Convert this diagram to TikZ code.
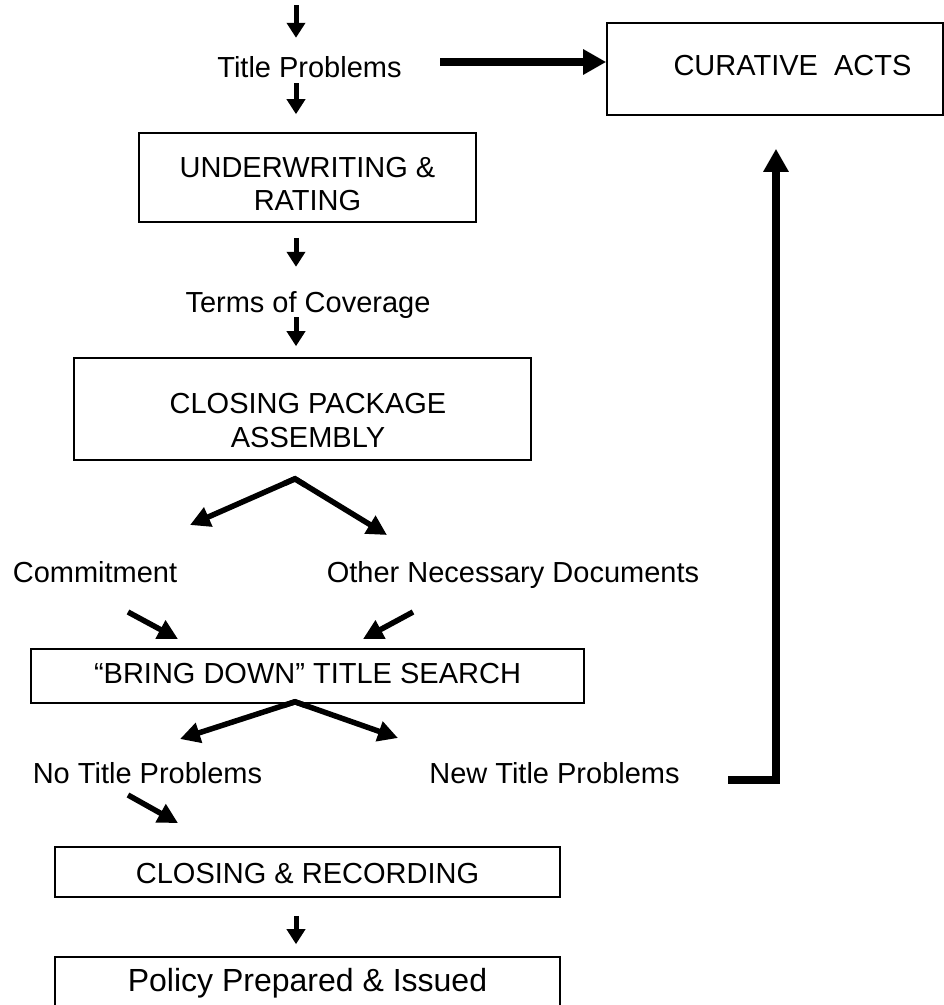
\documentclass[tikz,border=0pt]{standalone}
\usepackage{fontspec}
\setmainfont{Liberation Sans}
\usetikzlibrary{arrows.meta,calc}
\newcommand{\twoline}[3]{\raisebox{-#1}[\height][\depth]{\begin{tabular}{@{}c@{}}#2\\#3\end{tabular}}}
\begin{document}
\begin{tikzpicture}[x=1pt,y=-1pt,
  every node/.style={font=\fontsize{29pt}{33.5pt}\selectfont, inner sep=0pt},
  box/.style={draw, line width=1.6pt},
  lbl/.style={text height=20.8pt, text depth=0pt},
  varrow/.style={line width=5pt, -{Triangle[length=15pt,width=18pt]}},
  darrow/.style={line width=5.5pt, -{Triangle[length=20pt,width=20pt]}},
  tarrow/.style={line width=8pt, -{Triangle[length=23pt,width=24pt]}},
  joint/.style={line width=5.5pt, line join=miter, miter limit=10}]

\useasboundingbox (0,0) rectangle (944,1005);

% nodes
\node[lbl] (title) at (309.5,67) {Title Problems};
\node[box, minimum width=336pt, minimum height=92pt, text height=20.8pt, text depth=8pt] (cur) at (775,69) {\hspace*{35pt}CURATIVE~~ACTS};
\node[box, minimum width=337pt, minimum height=89pt] (uw) at (307.5,177.5) {\twoline{9.7pt}{UNDERWRITING \&}{RATING}};
\node[lbl] (terms) at (308,302) {Terms of Coverage};
\node[box, minimum width=457pt, minimum height=102pt] (cpa) at (302.5,409) {\hspace*{11pt}\twoline{14.7pt}{CLOSING PACKAGE}{ASSEMBLY}};
\node[lbl] (commit) at (95,572) {Commitment};
\node[lbl] (other) at (513,572) {Other Necessary Documents};
\node[box, minimum width=553pt, minimum height=54pt, text height=20.8pt, text depth=6pt] (bd) at (307.5,676) {“BRING DOWN” TITLE SEARCH};
\node[lbl] (notp) at (147.5,773) {No Title Problems};
\node[lbl] (newtp) at (554.5,773) {New Title Problems};
\node[box, minimum width=505pt, minimum height=50pt, text height=22.8pt, text depth=0pt] (clr) at (307.5,872) {CLOSING \& RECORDING};
\node[box, minimum width=505pt, minimum height=56pt, font=\fontsize{32pt}{37pt}\selectfont, text height=22.9pt, text depth=10pt] (pol) at (307.5,985) {Policy Prepared \& Issued};

% helper coordinates
\coordinate (col) at (296,0);
\coordinate (start) at (296,5);
\coordinate (fork1) at ($(cpa.south -| col)+(-1,18)$);
\coordinate (t1) at (190,525);
\coordinate (t2) at (387,535);
\coordinate (c1a) at (128,612);
\coordinate (c1b) at (178,639);
\coordinate (o1a) at (413,612);
\coordinate (o1b) at (363,639);
\coordinate (fork2) at ($(bd.south -| col)+(-1,-2)$);
\coordinate (t3) at (180,739);
\coordinate (t4) at (398,738);
\coordinate (n1a) at (128,795);
\coordinate (n1b) at (178,823);
\coordinate (ta) at (440,62);
\coordinate (rb) at (728,780);
\coordinate (ru) at ($(cur.south)+(1,33)$);

% vertical arrows
\draw[varrow, shorten >=18.6pt] (start) -- (title.north -| col);
\draw[varrow, shorten <=5.6pt, shorten >=18pt] (title.south -| col) -- (uw.north -| col);
\draw[varrow, shorten <=15pt, shorten >=24.6pt] (uw.south -| col) -- (terms.north -| col);
\draw[varrow, shorten <=4.6pt, shorten >=11pt] (terms.south -| col) -- (cpa.north -| col);
\draw[varrow, shorten <=18pt, shorten >=12pt] (clr.south -| col) -- (pol.north -| col);

% forks
\draw[joint] ($(fork1)!12pt!(t1)$) -- (fork1) -- ($(fork1)!12pt!(t2)$);
\draw[darrow] (fork1) -- (t1);
\draw[darrow] (fork1) -- (t2);
\draw[darrow] (c1a) -- (c1b);
\draw[darrow] (o1a) -- (o1b);
\draw[joint] ($(fork2)!12pt!(t3)$) -- (fork2) -- ($(fork2)!12pt!(t4)$);
\draw[darrow] (fork2) -- (t3);
\draw[darrow] (fork2) -- (t4);
\draw[darrow] (n1a) -- (n1b);

% thick arrows to curative acts
\draw[tarrow] (ta) -- (ta -| cur.west);
\draw[tarrow, line join=miter] (rb) -| (ru);
\end{tikzpicture}
\end{document}
